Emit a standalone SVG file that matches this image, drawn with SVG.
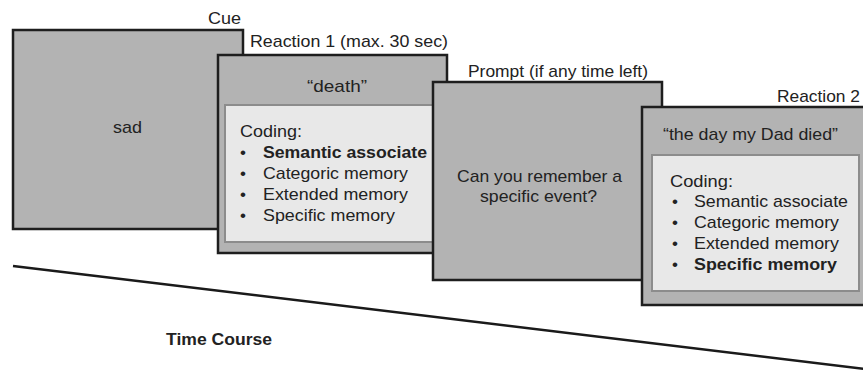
<svg xmlns="http://www.w3.org/2000/svg" width="863" height="374" viewBox="0 0 863 374">
  <style>
    .screen { fill: #b3b3b3; stroke: #1e1e1e; stroke-width: 2.5; }
    .panel { fill: #e8e8e8; stroke: #8c8c8c; stroke-width: 2; }
    text { font-family: "Liberation Sans", Arial, sans-serif; font-size: 17px; fill: #222; }
    .b { font-weight: bold; }
    .mid { text-anchor: middle; }
    .axis { stroke: #1a1a1a; stroke-width: 2.5; fill: none; }
  </style>
  <rect width="863" height="374" fill="#ffffff"/>

  <!-- time axis -->
  <g id="connectors">
    <line class="axis" x1="13" y1="266" x2="866" y2="369"/>
  </g>

  <g id="cue">
    <rect class="screen" x="13" y="30" width="230" height="199"/>
    <text x="208" y="24" textLength="33" lengthAdjust="spacingAndGlyphs">Cue</text>
    <text x="113" y="133" textLength="29" lengthAdjust="spacingAndGlyphs">sad</text>
  </g>

  <g id="reaction1">
    <rect class="screen" x="218" y="55" width="229" height="198"/>
    <text x="250" y="47" textLength="198" lengthAdjust="spacingAndGlyphs">Reaction 1 (max. 30 sec)</text>
    <text x="307" y="92" textLength="60" lengthAdjust="spacingAndGlyphs">“death”</text>
    <rect class="panel" x="225" y="105" width="215" height="137"/>
    <text x="240" y="137" textLength="62" lengthAdjust="spacingAndGlyphs">Coding:</text>
    <g class="mid">
      <text x="243" y="158">•</text>
      <text x="243" y="179">•</text>
      <text x="243" y="200">•</text>
      <text x="243" y="221">•</text>
    </g>
    <text class="b" x="263" y="158" textLength="164" lengthAdjust="spacingAndGlyphs">Semantic associate</text>
    <text x="263" y="179" textLength="145" lengthAdjust="spacingAndGlyphs">Categoric memory</text>
    <text x="263" y="200" textLength="145" lengthAdjust="spacingAndGlyphs">Extended memory</text>
    <text x="263" y="221" textLength="132" lengthAdjust="spacingAndGlyphs">Specific memory</text>
  </g>

  <g id="prompt">
    <rect class="screen" x="433" y="82" width="229" height="198"/>
    <text x="468" y="77" textLength="180" lengthAdjust="spacingAndGlyphs">Prompt (if any time left)</text>
    <text x="457" y="182" textLength="165" lengthAdjust="spacingAndGlyphs">Can you remember a</text>
    <text x="480" y="202" textLength="117" lengthAdjust="spacingAndGlyphs">specific event?</text>
  </g>

  <g id="reaction2">
    <rect class="screen" x="642" y="107" width="230" height="198"/>
    <text x="777" y="102" textLength="83" lengthAdjust="spacingAndGlyphs">Reaction 2</text>
    <text x="663" y="140" textLength="175" lengthAdjust="spacingAndGlyphs">“the day my Dad died”</text>
    <rect class="panel" x="652" y="155" width="207" height="136"/>
    <text x="670" y="187" textLength="63" lengthAdjust="spacingAndGlyphs">Coding:</text>
    <g class="mid">
      <text x="675" y="207">•</text>
      <text x="675" y="228">•</text>
      <text x="675" y="249">•</text>
      <text x="675" y="270">•</text>
    </g>
    <text x="694" y="207" textLength="154" lengthAdjust="spacingAndGlyphs">Semantic associate</text>
    <text x="694" y="228" textLength="145" lengthAdjust="spacingAndGlyphs">Categoric memory</text>
    <text x="694" y="249" textLength="145" lengthAdjust="spacingAndGlyphs">Extended memory</text>
    <text class="b" x="694" y="270" textLength="143" lengthAdjust="spacingAndGlyphs">Specific memory</text>
  </g>

  <g id="time-course">
    <text class="b" x="166" y="345" textLength="106" lengthAdjust="spacingAndGlyphs">Time Course</text>
  </g>
</svg>
